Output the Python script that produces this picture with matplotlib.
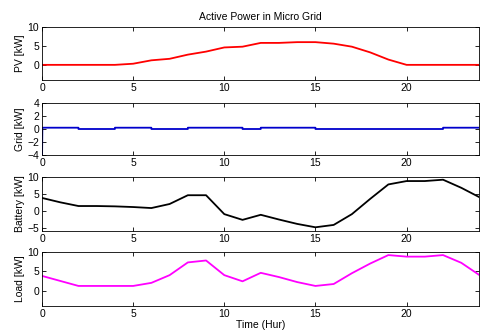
import numpy as np
import matplotlib.pyplot as plt

plt.rcParams['font.family'] = ['Liberation Sans', 'DejaVu Sans']
plt.rcParams['font.size'] = 7.5

# hours
t = np.arange(0, 25)
pv = [0, 0, 0, 0, 0, 0.3, 1.2, 1.6, 2.7, 3.5, 4.6, 4.8, 5.8, 5.8, 6.0, 6.0,
      5.6, 4.8, 3.3, 1.4, 0, 0, 0, 0, 0]
battery = [3.8, 2.5, 1.4, 1.4, 1.3, 1.1, 0.8, 2.0, 4.6, 4.6, -1.0, -2.7, -1.2,
           -2.6, -3.9, -4.9, -4.2, -1.0, 3.5, 7.8, 8.8, 8.8, 9.2, 6.8, 4.0]
load = [3.8, 2.5, 1.2, 1.2, 1.2, 1.2, 2.0, 4.0, 7.3, 7.8, 4.0, 2.4, 4.6, 3.5,
        2.2, 1.2, 1.7, 4.5, 7.0, 9.2, 8.8, 8.8, 9.2, 7.2, 4.0]

# grid power is piecewise constant, starts from a large negative value at t=0
t_grid = [0, 0.02, 2, 2, 4, 4, 6, 6, 8, 8, 11, 11, 12, 12, 15, 15, 22, 22, 24]
grid = [-5, 0.2, 0.2, 0.0, 0.0, 0.2, 0.2, 0.0, 0.0, 0.2, 0.2, 0.0, 0.0, 0.2,
        0.2, 0.0, 0.0, 0.2, 0.2]

fig = plt.figure(figsize=(4.81, 3.35), dpi=100)
left, right = 42 / 481, 479.5 / 481
# panel (top, bottom) in pixels
boxes = [(27, 80), (103, 155), (177, 231), (252, 306)]
axs = []
for top, bot in boxes:
    axs.append(fig.add_axes([left, 1 - bot / 335, right - left, (bot - top) / 335]))

axs[0].plot(t, pv, color='red', lw=1.3)
axs[0].set_ylim(-4, 10)
axs[0].set_yticks([0, 5, 10])
axs[0].set_ylabel('PV [kW]')
axs[0].set_title('Active Power in Micro Grid', fontsize=7.5, pad=5)

axs[1].plot(t_grid, grid, color='#0000cc', lw=1.3)
axs[1].set_ylim(-4, 4)
axs[1].set_yticks([-4, -2, 0, 2, 4])
axs[1].set_ylabel('Grid [kW]')

axs[2].plot(t, battery, color='black', lw=1.3)
axs[2].set_ylim(-6, 10)
axs[2].set_yticks([-5, 0, 5, 10])
axs[2].set_ylabel('Battery [kW]')

axs[3].plot(t, load, color='magenta', lw=1.3)
axs[3].set_ylim(-4, 10)
axs[3].set_yticks([0, 5, 10])
axs[3].set_ylabel('Load [kW]')
axs[3].set_xlabel('Time (Hur)', labelpad=1)

for ax in axs:
    ax.set_xlim(0, 24)
    ax.set_xticks([0, 5, 10, 15, 20])
    ax.tick_params(direction='in', top=True, right=True, length=3, width=0.6,
                   pad=2, labelsize=7.5)
    ax.yaxis.labelpad = 2
    for s in ax.spines.values():
        s.set_linewidth(0.6)

fig.savefig('out.png', dpi=100)
